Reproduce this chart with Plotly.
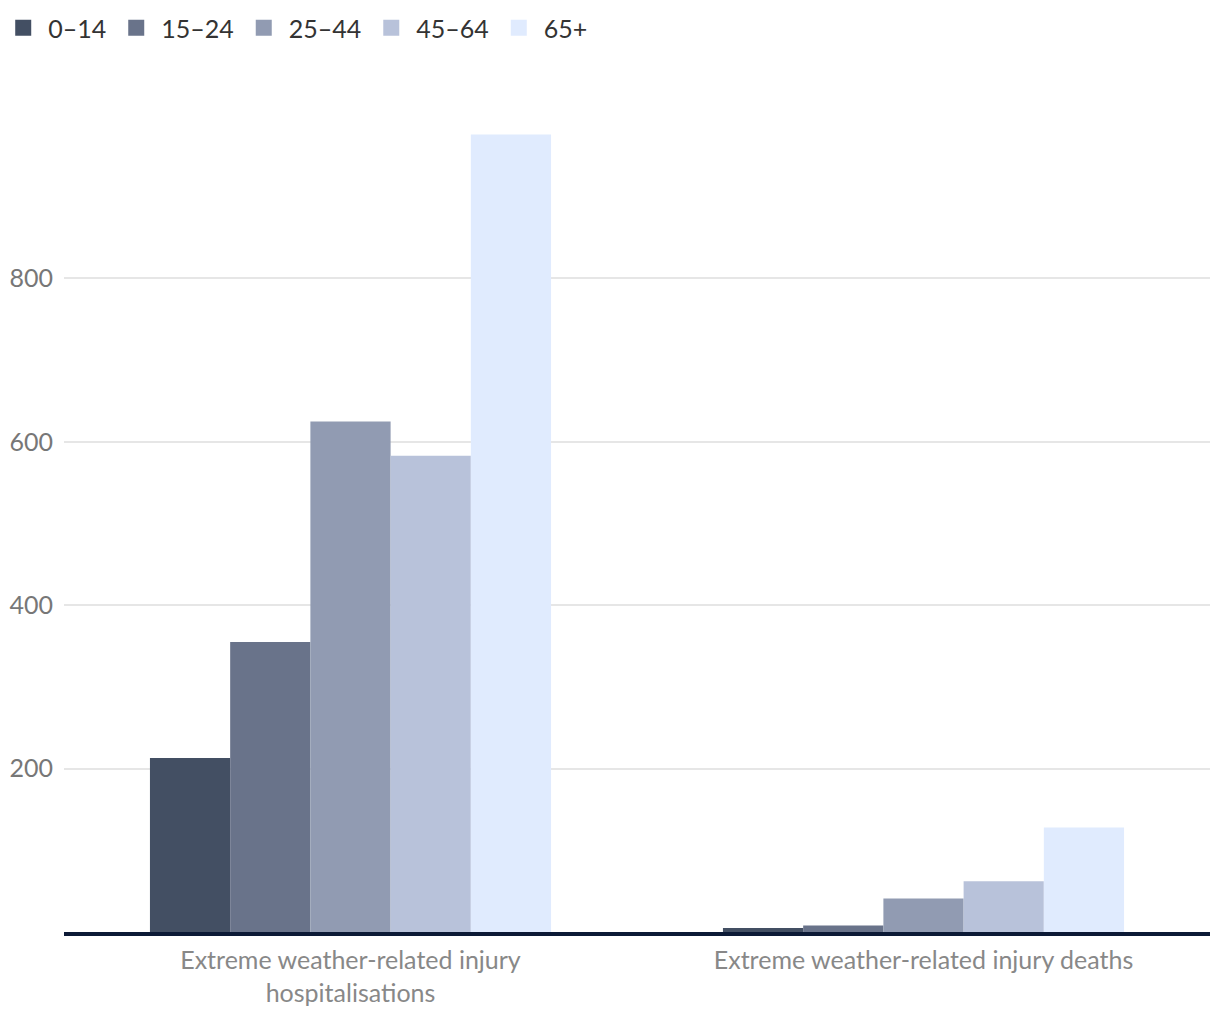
import plotly.graph_objects as go

categories = ["Extreme weather-related injury<br>hospitalisations",
              "Extreme weather-related injury deaths"]
age_groups = ["0–14", "15–24", "25–44", "45–64", "65+"]
values = {
    "0–14": [213, 5],
    "15–24": [355, 8],
    "25–44": [625, 41],
    "45–64": [583, 62],
    "65+": [976, 128],
}
colors = ["#434f63", "#69738a", "#919bb2", "#b8c2da", "#e0ebfe"]
y_ticks = [200, 400, 600, 800]

FONT = "Lato, 'Noto Sans', sans-serif"

fig = go.Figure()
for g, c in zip(age_groups, colors):
    fig.add_trace(go.Bar(name=g, x=categories, y=values[g], marker=dict(color=c, line=dict(width=0)),
                         showlegend=False, legendgroup=g))
for g, c in zip(age_groups, colors):
    fig.add_trace(go.Scatter(name=g, x=[None], y=[None], mode="markers", legendgroup=g,
                             marker=dict(symbol="square", size=16, color=c), showlegend=True))

fig.update_layout(
    width=1220, height=1020,
    margin=dict(l=56, r=18, t=107, b=96, autoexpand=False),
    paper_bgcolor="white", plot_bgcolor="white",
    barmode="group", bargap=0.3, bargroupgap=0,
    font=dict(family=FONT, size=25, color="#333333"),
    legend=dict(orientation="h", x=-0.0574, xref="paper", xanchor="left",
                y=1.1346, yref="paper", yanchor="top",
                font=dict(size=25, color="#333333"), itemwidth=40, tracegroupgap=0,
                traceorder="normal"),
    xaxis=dict(showline=True, linecolor="#0c1a36", linewidth=4, ticks="", showgrid=False,
               automargin=False, ticklabelstandoff=3, tickfont=dict(size=25, color="#888888")),
    yaxis=dict(range=[0, 1000], tickvals=y_ticks, showgrid=True, gridcolor="#e6e6e6", gridwidth=1.5,
               zeroline=False, showline=False, ticks="", ticklabelstandoff=10, automargin=False,
               tickfont=dict(size=25, color="#777777")),
)
fig.write_html("out.html")
